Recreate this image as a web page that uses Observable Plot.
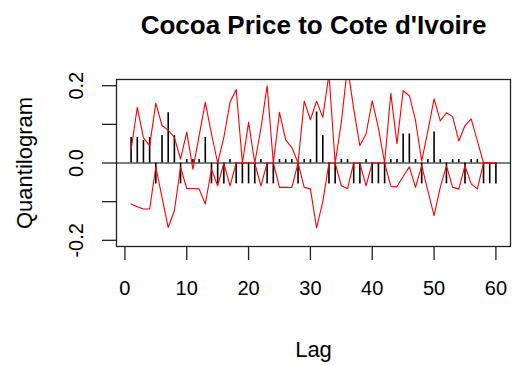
<!DOCTYPE html>
<html>
<head>
<meta charset="utf-8">
<script src="https://cdn.jsdelivr.net/npm/d3@7"></script>
<script src="https://cdn.jsdelivr.net/npm/@observablehq/plot@0.6"></script>
<style>
  html, body { margin: 0; padding: 0; background: #fff; }
  #chart { width: 524px; height: 365px; }
</style>
</head>
<body>
<div id="chart"></div>
<script>
const titleText = "Cocoa Price to Cote d'Ivoire";
const xLabel = "Lag";
const yLabel = "Quantilogram";

const lags = d3.range(1, 61);

const quant = [
  0.066, 0.066, 0.058, 0.066, -0.054, 0.071, 0.13, 0.071, -0.054, 0.009,
  0.009, 0.009, 0.066, -0.054, -0.054, -0.054, 0.009, -0.054, -0.054, -0.054,
  -0.054, 0.009, -0.054, -0.054, 0.009, 0.009, 0.009, -0.054, 0.009, 0.009,
  0.132, 0.071, -0.054, -0.054, 0.009, 0.009, -0.054, -0.054, 0.009, -0.054,
  -0.054, -0.054, 0.009, 0.009, 0.075, 0.075, 0.009, -0.054, 0.009, 0.08,
  0.009, -0.054, 0.009, 0.009, -0.054, 0.009, 0.009, -0.054, -0.054, -0.054
];

const upper = [
  0.035, 0.144, 0.065, 0.045, 0.155, 0.097, 0.085, 0.066, 0.01, 0.08,
  -0.016, 0.07, 0.157, 0.075, 0.0, 0.066, 0.157, 0.19, 0.0, 0.105,
  0.0, 0.09, 0.2, 0.0, 0.131, 0.06, 0.04, 0.0, 0.16, 0.112,
  0.16, 0.118, 0.23, 0.0, 0.105, 0.25, 0.14, 0.045, 0.075, 0.161,
  0.09, 0.0, 0.18, 0.05, 0.187, 0.174, 0.11, 0.005, 0.084, 0.166,
  0.109, 0.13, 0.12, 0.057, 0.097, 0.114, 0.057, 0.0, 0.0, 0.0
];

const lower = [
  -0.106, -0.113, -0.119, -0.119, -0.01, -0.089, -0.167, -0.123, -0.011, -0.066,
  -0.066, -0.067, -0.106, -0.016, -0.059, 0.0, -0.059, 0.0, 0.0, 0.0,
  0.0, -0.059, 0.0, 0.0, -0.063, -0.063, -0.063, 0.0, -0.063, -0.067,
  -0.168, -0.1, 0.0, 0.0, -0.059, -0.066, 0.0, 0.0, -0.059, 0.0,
  0.0, 0.0, -0.06, -0.061, -0.035, -0.01, -0.063, -0.007, -0.072, -0.136,
  -0.063, -0.007, -0.063, -0.067, -0.007, -0.054, -0.067, 0.0, 0.0, 0.0
];

const xTicks = [0, 10, 20, 30, 40, 50, 60];
const yTicks = [-0.2, -0.1, 0, 0.1, 0.2];
const yLabelTicks = [-0.2, 0, 0.2];
const yLabelTexts = ["-0.2", "0.0", "0.2"];

const data = lags.map((lag, i) => ({lag, q: quant[i], up: upper[i], lo: lower[i]}));
const yLab = yLabelTicks.map((v, i) => ({v, t: yLabelTexts[i]}));

const font = "'Liberation Sans', Arial, Helvetica, sans-serif";

const chart = Plot.plot({
  width: 524,
  height: 365,
  marginLeft: 116,
  marginRight: 14,
  marginTop: 79,
  marginBottom: 119,
  x: {domain: [-1.36, 62.36]},
  y: {domain: [-0.216, 0.216]},
  style: {fontFamily: font, fontSize: "20px", background: "#fff", color: "#000", overflow: "visible"},
  marks: [
    Plot.ruleY([0], {stroke: "#000", strokeWidth: 1.1}),
    Plot.ruleX(data, {x: "lag", y1: 0, y2: "q", stroke: "#000", strokeWidth: 1.6}),
    Plot.line(data, {x: "lag", y: "up", stroke: "#ff0000", strokeWidth: 1.1, clip: true}),
    Plot.line(data, {x: "lag", y: "lo", stroke: "#ff0000", strokeWidth: 1.1, clip: true}),
    Plot.frame({stroke: "#222", strokeWidth: 1.3}),
    Plot.axisX({ticks: xTicks, tickSize: 14, tickPadding: 20, fontSize: 20, label: null, stroke: "#222", strokeWidth: 1.3, tickFormat: d => String(d)}),
    Plot.axisY({ticks: yTicks, tickSize: 14, tickFormat: () => "", label: null, stroke: "#222", strokeWidth: 1.3}),
    Plot.text(yLab, {y: "v", text: "t", frameAnchor: "left", rotate: -90, dx: -34, textAnchor: "middle", lineAnchor: "bottom", fontSize: 20, fill: "#000"}),
    Plot.text([titleText], {frameAnchor: "top", dy: -46, lineAnchor: "bottom", fontSize: 26, fontWeight: "bold", fill: "#000"}),
    Plot.text([xLabel], {frameAnchor: "bottom", dy: 110, lineAnchor: "bottom", fontSize: 22, fill: "#000"}),
    Plot.text([yLabel], {frameAnchor: "left", dx: -85, rotate: -90, textAnchor: "middle", lineAnchor: "bottom", fontSize: 22, fill: "#000"})
  ]
});

document.getElementById("chart").appendChild(chart);
</script>
</body>
</html>
